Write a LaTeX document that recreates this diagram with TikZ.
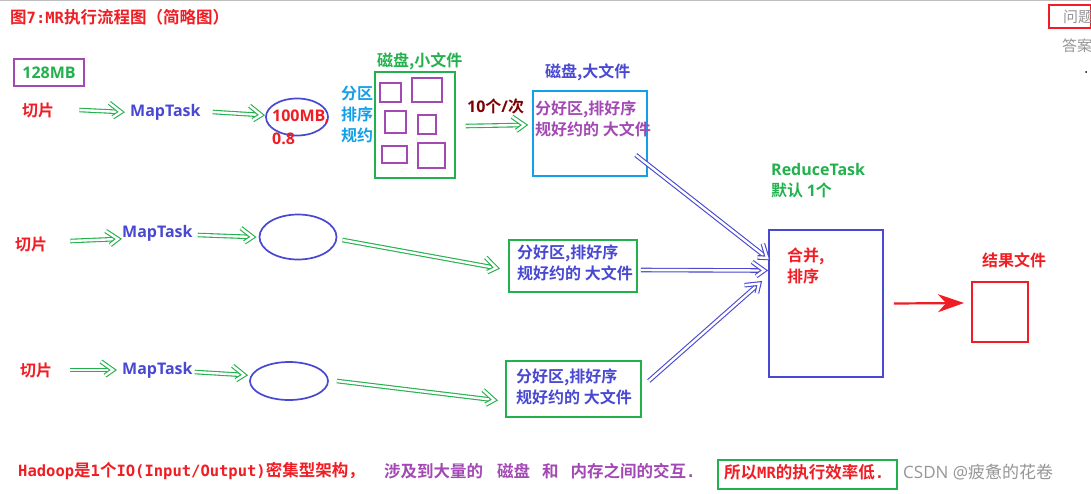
\documentclass[tikz,border=0pt]{standalone}
\usepackage{fontspec}
\setmainfont{Noto Sans CJK SC}[BoldFont={Noto Sans CJK SC Bold}]
\newfontfamily\lat{Open Sans}
\newfontfamily\pxmono{DejaVu Sans Mono}
\usetikzlibrary{arrows.meta,shapes.geometric,decorations.markings}
\definecolor{rd}{RGB}{240,30,36}
\definecolor{gr}{RGB}{34,177,76}
\definecolor{bl}{RGB}{72,72,210}
\definecolor{pu}{RGB}{163,73,180}
\definecolor{cy}{RGB}{20,160,232}
\definecolor{dr}{RGB}{128,0,0}
\definecolor{gy}{RGB}{150,150,150}
\tikzset{
  lbl/.style={inner sep=0pt, anchor=west, font=\fontsize{16}{21}\selectfont\bfseries, align=left},
  pix/.style={inner sep=0pt, anchor=west, font=\fontsize{16.5}{18}\selectfont\bfseries},
  harrow/.style={draw=#1, double=white, double distance=2.4pt, line width=1.1pt, shorten >=5pt,
    postaction={draw=none, decorate, decoration={markings,
      mark=at position 0.999 with {\draw[draw=#1, double=white, double distance=2.4pt, line width=1.1pt, line join=miter]
        (-12pt,8.5pt) -- (0pt,0pt) -- (-12pt,-8.5pt);}}}},
  garrow/.style={harrow=gr},
  barrow/.style={harrow=bl},
  frame/.style={draw, line width=1.5pt, inner sep=0pt},
  oval/.style={draw=bl, ellipse, line width=1.7pt, inner sep=0pt},
}
\newcommand{\pxl}[1]{{\pxmono\fontsize{15.5}{18}\selectfont #1}}
\begin{document}
\begin{tikzpicture}[x=1pt,y=-1pt]
\useasboundingbox (0,0) rectangle (1091,493);
\fill[white] (0,0) rectangle (1091,493);
\draw[gray!50, line width=1pt] (0,0.5) -- (1091,0.5);

% title
\node[pix, text=rd] (title) at (10,17) {图\pxl{7:MR}执行流程图（简略图）};
% top right
\node[frame, draw=rd, line width=2pt, minimum width=42pt, minimum height=23pt] (qbox) at (1070,16.5) {};
\node[inner sep=0pt, anchor=west, text=gy, font=\fontsize{15}{18}\selectfont] (q) at (1063,17) {问题};
\node[inner sep=0pt, anchor=west, text=gy, font=\fontsize{15}{18}\selectfont] (a) at (1062,46) {答案};
\fill (1086,72) circle (1pt);

% 128MB
\node[frame, draw=pu, minimum width=70pt, minimum height=27pt] (mb) at (49,72.5) {};
\node[lbl, anchor=center, text=gr] (mbt) at (49,73) {\lat 128MB};

% row 1
\node[lbl, text=rd] (qp1) at (22,110) {切片};
\node[lbl, text=bl] (mt1) at (130,112) {\lat MapTask};
\node[oval, minimum width=62pt, minimum height=37pt] (e1) at (297,117) {};
\node[lbl, text=rd] (e1t) at (272,117) {\lat 100MB,};
\node[lbl, text=rd] (e1b) at (272,139) {\lat 0.8};
\node[lbl, anchor=north west, text=cy] (fq) at (341,86) {分区\\排序\\规约};
\node[frame, draw=gr, minimum width=80pt, minimum height=106pt] (disk1) at (415,125) {};
\node[lbl, text=gr] (disk1l) at (377,61) {磁盘,小文件};
\draw[pu, line width=1.5pt] (380,83) rectangle (401,102)
  (412,78) rectangle (442,102)
  (385,111) rectangle (406,133)
  (418,115) rectangle (436,134)
  (382,146) rectangle (407,163)
  (418,143) rectangle (445,168);
\node[lbl, text=dr] (ten) at (467,106) {{\lat 10}个{\lat /}次};
\node[frame, draw=cy, minimum width=114pt, minimum height=85pt] (big1) at (590,133.5) {};
\node[lbl, text=bl] (disk2l) at (545,72) {磁盘,大文件};
\node[lbl, anchor=north west, text=pu] (big1t) at (535,101) {分好区,排好序\\规好约的 大文件};

\draw[garrow] ([xshift=25pt]qp1.east) -- ([xshift=-9pt]mt1.west);
\draw[garrow] ([xshift=12pt]mt1.east) -- ([xshift=-4pt,yshift=2pt]e1.west);
\draw[garrow] ([xshift=10pt,yshift=-1pt]disk1.east) -- ([xshift=-8pt]big1.west |- disk1.east);

% row 2
\node[lbl, text=rd] (qp2) at (15,244) {切片};
\node[lbl, text=bl] (mt2) at (122,233) {\lat MapTask};
\node[oval, minimum width=77pt, minimum height=45pt] (e2) at (298,237) {};
\node[frame, draw=gr, minimum width=128pt, minimum height=52pt] (big2) at (573,266) {};
\node[lbl, anchor=north west, text=bl] (big2t) at (517,245) {分好区,排好序\\规好约的 大文件};
\draw[garrow] ([xshift=23pt,yshift=3pt]qp2.east) -- ([xshift=-4pt,yshift=-6pt]mt2.west);
\draw[garrow] ([xshift=5pt,yshift=-2pt]mt2.east) -- ([xshift=-6pt]e2.west);
\draw[garrow] ([xshift=5pt,yshift=-3pt]e2.east) -- ([xshift=-12pt,yshift=-2pt]big2.west);

% row 3
\node[lbl, text=rd] (qp3) at (20,370) {切片};
\node[lbl, text=bl] (mt3) at (122,370) {\lat MapTask};
\node[oval, minimum width=78pt, minimum height=38pt] (e3) at (289,381) {};
\node[frame, draw=gr, minimum width=135pt, minimum height=56pt] (big3) at (573.5,389) {};
\node[lbl, anchor=north west, text=bl] (big3t) at (516,369) {分好区,排好序\\规好约的 大文件};
\draw[garrow] ([xshift=18pt]qp3.east) -- ([xshift=-9pt]mt3.west);
\draw[garrow] ([xshift=2pt,yshift=-2pt]mt3.east) -- ([xshift=-5pt,yshift=6pt]e3.west);
\draw[garrow] ([xshift=8pt]e3.east) -- ([xshift=-11pt,yshift=-11pt]big3.west);

% reduce
\node[frame, draw=bl, minimum width=114pt, minimum height=147pt] (red) at (826,303.5) {};
\node[lbl, anchor=north west, text=gr] (redl) at (771,163) {{\lat ReduceTask}\\默认 {\lat 1}个};
\node[lbl, anchor=north west, text=rd] (redt) at (787,248) {合并,\\排序};
\draw[barrow] ([xshift=-12pt,yshift=-21.5pt]big1.east) -- ([xshift=-1pt,yshift=45.5pt]red.west);
\draw[barrow] ([xshift=3pt,yshift=-4pt]big2.east) -- ([xshift=-4pt,yshift=33pt]red.west);
\draw[barrow] ([xshift=7pt,yshift=8pt]big3.east) -- ([xshift=-9pt,yshift=20pt]red.west);

% result
\node[frame, draw=rd, line width=2pt, minimum width=56pt, minimum height=60pt] (res) at (1000,312) {};
\node[lbl, text=rd] (resl) at (982,260) {结果文件};
\draw[rd, line width=2.2pt, -{Stealth[length=26pt,width=18pt,inset=8pt]}] ([xshift=10pt]red.east) -- ([xshift=-7pt,yshift=9pt]res.west);

% bottom line
\node[pix, text=rd] (b1) at (18,471) {\pxl{Hadoop}是\pxl{1}个\pxl{IO(Input/Output)}密集型架构，};
\node[pix, text=pu] (b2) at (384,471) {涉及到大量的\hspace{14pt}磁盘\hspace{12pt}和\hspace{12pt}内存之间的交互\pxl{.}};
\node[frame, draw=gr, line width=2pt, minimum width=179pt, minimum height=29pt] (gbox) at (807.5,474.5) {};
\node[pix, text=rd] (b3) at (724,472) {所以\pxl{MR}的执行效率低\pxl{.}};
\node[inner sep=0pt, anchor=west, text=gy, font=\fontsize{17}{20}\selectfont] (csdn) at (903,472) {{\lat CSDN @}疲惫的花卷};
\end{tikzpicture}
\end{document}
